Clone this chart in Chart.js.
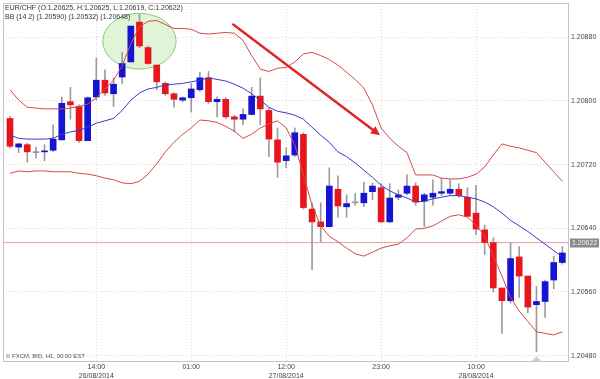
<!DOCTYPE html>
<html><head><meta charset="utf-8">
<script src="https://cdn.jsdelivr.net/npm/chart.js@4.4.1/dist/chart.umd.min.js"></script>
<style>html,body{margin:0;padding:0;background:#fff}#wrap{width:600px;height:379px;position:relative}</style>
</head><body><div id="wrap"><canvas id="c" width="600" height="379"></canvas></div>
<script>
// ---- data (EUR/CHF H1, candle index 0 = 26/08/2014 04:00) ----
const opens  = [1.20778,1.20742,1.20745,1.20735,1.20736,1.20738,1.20751,1.20799,1.20793,1.20750,
                1.20805,1.20826,1.20809,1.20830,1.20849,1.20899,1.20867,1.20845,1.20822,1.20809,
                1.20801,1.20804,1.20814,1.20829,1.20799,1.20802,1.20780,1.20777,1.20783,1.20806,
                1.20788,1.20751,1.20725,1.20732,1.20758,1.20664,1.20648,1.20642,1.20689,1.20667,
                1.20672,1.20672,1.20686,1.20691,1.20648,1.20679,1.20684,1.20693,1.20674,1.20679,
                1.20684,1.20684,1.20689,1.20679,1.20659,1.20638,1.20622,1.20565,1.20549,1.20604,
                1.20580,1.20544,1.20548,1.20575,1.20597];
const highs  = [1.20781,1.20747,1.20747,1.20742,1.20745,1.20770,1.20805,1.20817,1.20795,1.20805,
                1.20854,1.20839,1.20829,1.20861,1.20894,1.20909,1.20869,1.20845,1.20824,1.20810,
                1.20805,1.20822,1.20836,1.20837,1.20805,1.20804,1.20782,1.20790,1.20817,1.20829,
                1.20791,1.20766,1.20741,1.20766,1.20760,1.20672,1.20672,1.20716,1.20706,1.20682,
                1.20684,1.20698,1.20697,1.20696,1.20696,1.20688,1.20707,1.20697,1.20684,1.20701,
                1.20703,1.20701,1.20696,1.20691,1.20694,1.20644,1.20628,1.20565,1.20622,1.20617,
                1.20580,1.20567,1.20575,1.20605,1.20617];
const lows   = [1.20741,1.20735,1.20723,1.20728,1.20725,1.20736,1.20751,1.20777,1.20748,1.20750,
                1.20801,1.20807,1.20793,1.20822,1.20849,1.20867,1.20846,1.20814,1.20807,1.20792,
                1.20799,1.20786,1.20812,1.20797,1.20780,1.20778,1.20761,1.20770,1.20782,1.20770,
                1.20730,1.20704,1.20716,1.20730,1.20664,1.20588,1.20623,1.20642,1.20654,1.20654,
                1.20669,1.20667,1.20676,1.20647,1.20647,1.20676,1.20682,1.20669,1.20642,1.20669,
                1.20681,1.20682,1.20679,1.20654,1.20632,1.20607,1.20560,1.20508,1.20546,1.20553,
                1.20534,1.20485,1.20528,1.20564,1.20595];
const closes = [1.20743,1.20746,1.20736,1.20735,1.20737,1.20752,1.20797,1.20795,1.20750,1.20804,
                1.20826,1.20810,1.20821,1.20847,1.20894,1.20869,1.20847,1.20824,1.20809,1.20802,
                1.20804,1.20815,1.20829,1.20799,1.20802,1.20780,1.20777,1.20783,1.20806,1.20790,
                1.20752,1.20723,1.20731,1.20760,1.20666,1.20648,1.20642,1.20693,1.20668,1.20671,
                1.20672,1.20684,1.20693,1.20648,1.20678,1.20682,1.20693,1.20673,1.20682,1.20684,
                1.20686,1.20689,1.20681,1.20655,1.20639,1.20622,1.20565,1.20549,1.20602,1.20580,
                1.20541,1.20548,1.20573,1.20597,1.20609];
const bbUpper  = [1.20814,1.20801,1.20792,1.20791,1.20790,1.20790,1.20790,1.20791,1.20793,1.20796,
                  1.20804,1.20815,1.20826,1.20844,1.20872,1.20893,1.20900,1.20901,1.20896,1.20891,
                  1.20891,1.20890,1.20885,1.20884,1.20885,1.20886,1.20885,1.20876,1.20857,1.20840,
                  1.20837,1.20841,1.20842,1.20849,1.20859,1.20861,1.20857,1.20852,1.20845,1.20836,
                  1.20827,1.20816,1.20795,1.20766,1.20753,1.20743,1.20735,1.20707,1.20707,1.20707,
                  1.20703,1.20702,1.20702,1.20704,1.20708,1.20717,1.20732,1.20746,1.20743,1.20741,
                  1.20738,1.20735,1.20723,1.20711,1.20699];
const bbMiddle = [1.20757,1.20753,1.20752,1.20752,1.20752,1.20753,1.20758,1.20761,1.20763,1.20767,
                  1.20772,1.20775,1.20778,1.20788,1.20801,1.20810,1.20815,1.20817,1.20820,1.20821,
                  1.20822,1.20824,1.20826,1.20829,1.20827,1.20825,1.20821,1.20816,1.20809,1.20801,
                  1.20792,1.20787,1.20785,1.20782,1.20777,1.20767,1.20757,1.20748,1.20736,1.20730,
                  1.20722,1.20713,1.20704,1.20694,1.20687,1.20682,1.20678,1.20673,1.20674,1.20677,
                  1.20679,1.20681,1.20681,1.20679,1.20677,1.20673,1.20667,1.20659,1.20650,1.20643,
                  1.20636,1.20628,1.20620,1.20612,1.20604];
const bbLower  = [1.20709,1.20712,1.20711,1.20712,1.20712,1.20711,1.20711,1.20711,1.20709,1.20708,
                  1.20706,1.20703,1.20701,1.20697,1.20696,1.20699,1.20708,1.20721,1.20736,1.20748,
                  1.20758,1.20766,1.20776,1.20775,1.20773,1.20768,1.20762,1.20753,1.20758,1.20766,
                  1.20771,1.20775,1.20766,1.20745,1.20707,1.20669,1.20643,1.20630,1.20623,1.20615,
                  1.20608,1.20605,1.20610,1.20615,1.20618,1.20620,1.20628,1.20639,1.20640,1.20643,
                  1.20649,1.20655,1.20657,1.20654,1.20644,1.20630,1.20605,1.20580,1.20553,1.20536,
                  1.20523,1.20510,1.20508,1.20506,1.20510];
const xTickIdx    = [10, 21, 32, 43, 54];
const xTickLabels = [["14:00","26/08/2014"],["01:00",""],["12:00","27/08/2014"],["23:00",""],["10:00","28/08/2014"]];
const yTickValues = [1.2048, 1.2056, 1.2064, 1.2072, 1.2080, 1.2088];
const lastPrice   = 1.20622;
const legendLine1 = "EUR/CHF (O:1.20625, H:1.20625, L:1.20619, C:1.20622)";
const legendLine2 = "BB (14 2) (1.20590) (1.20532) (1.20648)";
const sourceText  = "FXCM, BID, H1, 00:00 EST";
// annotations in data space
const ellipseNote = {cx: 15.0, cy: 1.20875, rx: 4.25, ry: 0.00035};
const arrowNote   = {x1: 25.87, y1: 1.20896, x2: 42.87, y2: 1.20757};
// axis ranges
const xMin = -0.81, xMax = 64.77, yMin = 1.20472, yMax = 1.20923;

const FONT = '"Liberation Sans", Arial, sans-serif';
Chart.defaults.font.family = FONT;
Chart.defaults.font.size = 7;

const idx = opens.map((_, i) => i);
const bodyColors = idx.map(i => closes[i] > opens[i] ? '#1414d2' : (closes[i] < opens[i] ? '#e8161c' : '#9a9a9a'));

const extras = {
  id: 'extras',
  beforeDatasetsDraw(chart) {
    const {ctx, scales: {x, y}} = chart;
    const cx = x.getPixelForValue(ellipseNote.cx), cy = y.getPixelForValue(ellipseNote.cy);
    const rx = Math.abs(x.getPixelForValue(ellipseNote.cx + ellipseNote.rx) - cx);
    const ry = Math.abs(y.getPixelForValue(ellipseNote.cy + ellipseNote.ry) - cy);
    ctx.save();
    ctx.beginPath(); ctx.ellipse(cx, cy, rx, ry, 0, 0, Math.PI * 2);
    ctx.fillStyle = 'rgba(205,236,190,0.6)'; ctx.fill();
    ctx.strokeStyle = '#8cc87c'; ctx.lineWidth = 1; ctx.stroke();
    ctx.restore();
  },
  afterDatasetsDraw(chart) {
    const {ctx, chartArea: a, scales: {x, y}} = chart;
    ctx.save();
    // frame
    ctx.strokeStyle = '#c4c4c4'; ctx.lineWidth = 1;
    ctx.strokeRect(a.left + 0.5, a.top + 0.5, a.right - a.left - 1, a.bottom - a.top - 1);
    // arrow
    const x1 = x.getPixelForValue(arrowNote.x1), y1 = y.getPixelForValue(arrowNote.y1);
    const x2 = x.getPixelForValue(arrowNote.x2), y2 = y.getPixelForValue(arrowNote.y2);
    const ang = Math.atan2(y2 - y1, x2 - x1), hl = 9, hw = 4.5;
    ctx.strokeStyle = '#e02424'; ctx.fillStyle = '#e02424'; ctx.lineWidth = 2.4; ctx.lineCap = 'round';
    ctx.beginPath(); ctx.moveTo(x1, y1);
    ctx.lineTo(x2 - Math.cos(ang) * (hl - 2), y2 - Math.sin(ang) * (hl - 2)); ctx.stroke();
    ctx.beginPath(); ctx.moveTo(x2, y2);
    ctx.lineTo(x2 - Math.cos(ang) * hl + Math.sin(ang) * hw, y2 - Math.sin(ang) * hl - Math.cos(ang) * hw);
    ctx.lineTo(x2 - Math.cos(ang) * hl - Math.sin(ang) * hw, y2 - Math.sin(ang) * hl + Math.cos(ang) * hw);
    ctx.closePath(); ctx.fill();
    // lowest-low marker
    let lo = 0; lows.forEach((v, i) => { if (v < lows[lo]) lo = i; });
    const tx = x.getPixelForValue(lo);
    ctx.fillStyle = '#cfcfcf';
    ctx.beginPath(); ctx.moveTo(tx, a.bottom - 6); ctx.lineTo(tx + 4.5, a.bottom - 1); ctx.lineTo(tx - 4.5, a.bottom - 1); ctx.closePath(); ctx.fill();
    // last price box
    const py = y.getPixelForValue(lastPrice);
    ctx.fillStyle = '#8a8a8a';
    ctx.fillRect(a.right + 1, Math.round(py) - 4.5, 29, 9);
    ctx.fillStyle = '#f4f4f4'; ctx.font = '7px ' + FONT; ctx.textBaseline = 'middle'; ctx.textAlign = 'left';
    ctx.fillText(lastPrice.toFixed(5), a.right + 3, Math.round(py) + 0.5);
    // legend texts
    ctx.fillStyle = '#333'; ctx.textBaseline = 'alphabetic'; ctx.font = '7px ' + FONT;
    ctx.fillText(legendLine1, 5, 9.5);
    ctx.fillText(legendLine2, 5, 18.5);
    // source text
    ctx.fillStyle = '#c8c8c8'; ctx.fillRect(6, a.bottom - 8, 4, 4);
    ctx.fillStyle = '#555'; ctx.font = '6px ' + FONT;
    ctx.fillText(sourceText, 12, a.bottom - 4);
    ctx.restore();
  }
};

const gridOpts = {color: '#dadada', offset: false, drawTicks: false, lineWidth: 1};
new Chart(document.getElementById('c'), {
  type: 'bar',
  data: {
    datasets: [
      {type: 'line', data: [{x: xMin, y: lastPrice}, {x: xMax, y: lastPrice}], borderColor: '#e8a0a0', borderWidth: 1, pointRadius: 0, order: 6},
      {type: 'bar', data: idx.map(i => ({x: i, y: [lows[i], highs[i]]})), backgroundColor: '#9c9c9c', barThickness: 1, grouped: false, borderWidth: 0, order: 5},
      {type: 'bar', data: idx.map(i => ({x: i, y: [opens[i], closes[i]]})), backgroundColor: bodyColors, barThickness: 6, minBarLength: 1, grouped: false, borderWidth: 0, order: 4},
      {type: 'line', data: idx.map(i => ({x: i, y: bbUpper[i]})), borderColor: '#d04a4a', borderWidth: 1, pointRadius: 0, tension: 0, order: 3},
      {type: 'line', data: idx.map(i => ({x: i, y: bbLower[i]})), borderColor: '#d04a4a', borderWidth: 1, pointRadius: 0, tension: 0, order: 2},
      {type: 'line', data: idx.map(i => ({x: i, y: bbMiddle[i]})), borderColor: '#3a3ac8', borderWidth: 1, pointRadius: 0, tension: 0, order: 1}
    ]
  },
  options: {
    responsive: false, animation: false, devicePixelRatio: 1,
    layout: {padding: {top: 3, left: 3, right: 0, bottom: 0}},
    plugins: {legend: {display: false}, tooltip: {enabled: false}},
    scales: {
      x: {
        type: 'linear', min: xMin, max: xMax, offset: false,
        grid: gridOpts, border: {display: false, dash: [1, 2]},
        afterBuildTicks: s => { s.ticks = xTickIdx.map(v => ({value: v})); },
        afterFit: s => { s.height = 17; s.paddingLeft = 0; s.paddingRight = 0; },
        ticks: {autoSkip: false, maxRotation: 0, minRotation: 0, padding: 1, color: '#444', font: {size: 7},
                callback: (v, i) => xTickLabels[i]}
      },
      y: {
        type: 'linear', position: 'right', min: yMin, max: yMax,
        grid: gridOpts, border: {display: false, dash: [1, 2]},
        afterBuildTicks: s => { s.ticks = yTickValues.map(v => ({value: v})); },
        afterFit: s => { s.width = 31; s.paddingTop = 0; s.paddingBottom = 0; },
        ticks: {padding: 2, color: '#444', font: {size: 7}, callback: v => Number(v).toFixed(5)}
      }
    }
  },
  plugins: [extras]
});
</script>
</body></html>
